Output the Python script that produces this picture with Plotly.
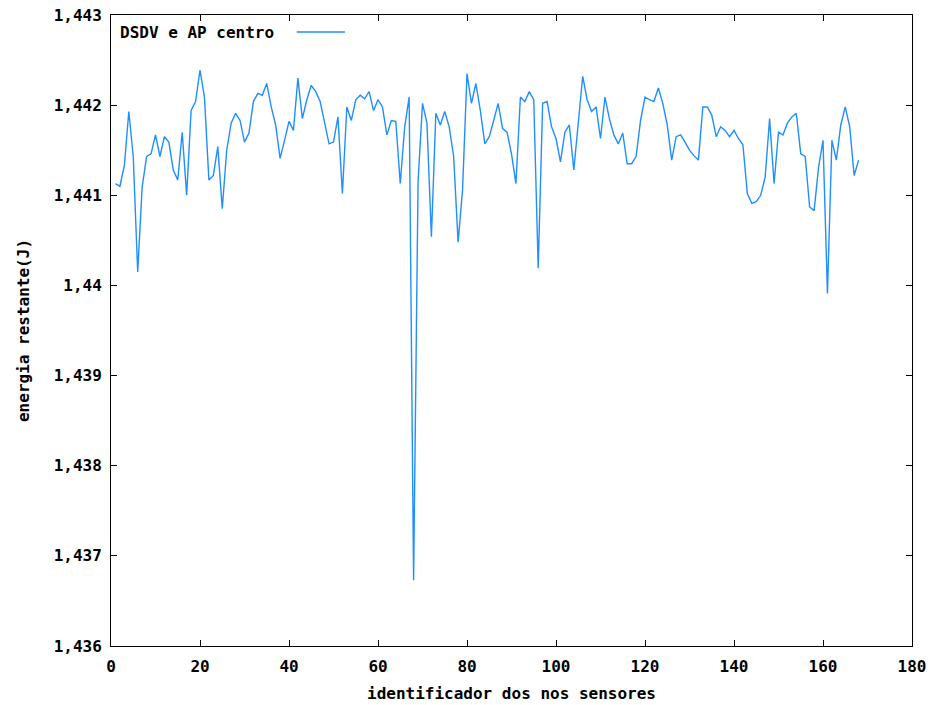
import plotly.graph_objects as go

sensor_ids = list(range(1, 169))
energy = [
    1.44113, 1.44110, 1.44133, 1.44193, 1.44143, 1.44015, 1.44109, 1.44143, 1.44146, 1.44167,
    1.44143, 1.44165, 1.44159, 1.44128, 1.44117, 1.44170, 1.44100, 1.44194, 1.44204, 1.44239,
    1.44209, 1.44117, 1.44122, 1.44154, 1.44085, 1.44150, 1.44180, 1.44191, 1.44183, 1.44159,
    1.44169, 1.44204, 1.44213, 1.44211, 1.44224, 1.44198, 1.44178, 1.44141, 1.44161, 1.44182,
    1.44172, 1.44230, 1.44185, 1.44206, 1.44222, 1.44215, 1.44204, 1.44180, 1.44157, 1.44159,
    1.44187, 1.44102, 1.44198, 1.44183, 1.44206, 1.44211, 1.44207, 1.44215, 1.44194, 1.44206,
    1.44198, 1.44167, 1.44183, 1.44182, 1.44113, 1.44176, 1.44209, 1.43673, 1.44115, 1.44202,
    1.44180, 1.44054, 1.44191, 1.44178, 1.44193, 1.44176, 1.44143, 1.44048, 1.44106, 1.44235,
    1.44202, 1.44224, 1.44194, 1.44157, 1.44165, 1.44183, 1.44202, 1.44174, 1.44170, 1.44146,
    1.44113, 1.44209, 1.44204, 1.44215, 1.44206, 1.44019, 1.44202, 1.44204, 1.44176, 1.44163,
    1.44137, 1.44170, 1.44178, 1.44128, 1.44176, 1.44232, 1.44206, 1.44193, 1.44198, 1.44163,
    1.44209, 1.44185, 1.44167, 1.44157, 1.44169, 1.44135, 1.44135, 1.44143, 1.44183, 1.44209,
    1.44206, 1.44204, 1.44219, 1.44202, 1.44178, 1.44139, 1.44165, 1.44167, 1.44159, 1.44150,
    1.44144, 1.44139, 1.44198, 1.44198, 1.44189, 1.44165, 1.44176, 1.44172, 1.44165, 1.44172,
    1.44163, 1.44156, 1.44102, 1.44091, 1.44093, 1.44100, 1.44120, 1.44185, 1.44113, 1.44170,
    1.44167, 1.44180, 1.44187, 1.44191, 1.44146, 1.44143, 1.44087, 1.44083, 1.44131, 1.44161,
    1.43991, 1.44161, 1.44139, 1.44178, 1.44198, 1.44176, 1.44122, 1.44139,
]

series_name = "DSDV e AP centro"
x_title = "identificador dos nos sensores"
y_title = "energia restante(J)"
x_ticks = [0, 20, 40, 60, 80, 100, 120, 140, 160, 180]
y_tickvals = [1.436, 1.437, 1.438, 1.439, 1.440, 1.441, 1.442, 1.443]
y_ticktext = ["1,436", "1,437", "1,438", "1,439", "1,44", "1,441", "1,442", "1,443"]

line_color = "#1f8fff"
font = dict(family="DejaVu Sans Mono", size=16, color="black", weight="bold")

fig = go.Figure()
fig.add_trace(go.Scatter(x=sensor_ids, y=energy, mode="lines", name=series_name,
                         line=dict(color=line_color, width=1.4), showlegend=False))

axis_common = dict(showline=True, linecolor="black", linewidth=1, mirror="allticks",
                   ticks="inside", ticklen=6, tickcolor="black", showgrid=False,
                   zeroline=False, tickfont=font, automargin=False)

fig.update_layout(
    width=938, height=705,
    margin=dict(l=111, r=26, t=15, b=59),
    paper_bgcolor="white", plot_bgcolor="white",
    font=font,
    xaxis=dict(range=[0, 180], tickvals=x_ticks, ticklabelstandoff=6,
               title=dict(text=x_title, font=font, standoff=12), **axis_common),
    yaxis=dict(range=[1.436, 1.443], tickvals=y_tickvals, ticktext=y_ticktext,
               ticklabelstandoff=5,
               title=dict(text=y_title, font=font, standoff=20), **axis_common),
)

fig.add_annotation(x=0.009, y=0.973, xref="paper", yref="paper", text=series_name,
                   showarrow=False, xanchor="left", yanchor="middle", font=font)
fig.add_shape(type="line", xref="paper", yref="paper", x0=0.232, x1=0.292,
              y0=0.973, y1=0.973, line=dict(color=line_color, width=1.4))

fig.write_html("out.html", config={"displayModeBar": False},
               post_script="document.body.style.margin='0';document.body.style.overflow='hidden';")
